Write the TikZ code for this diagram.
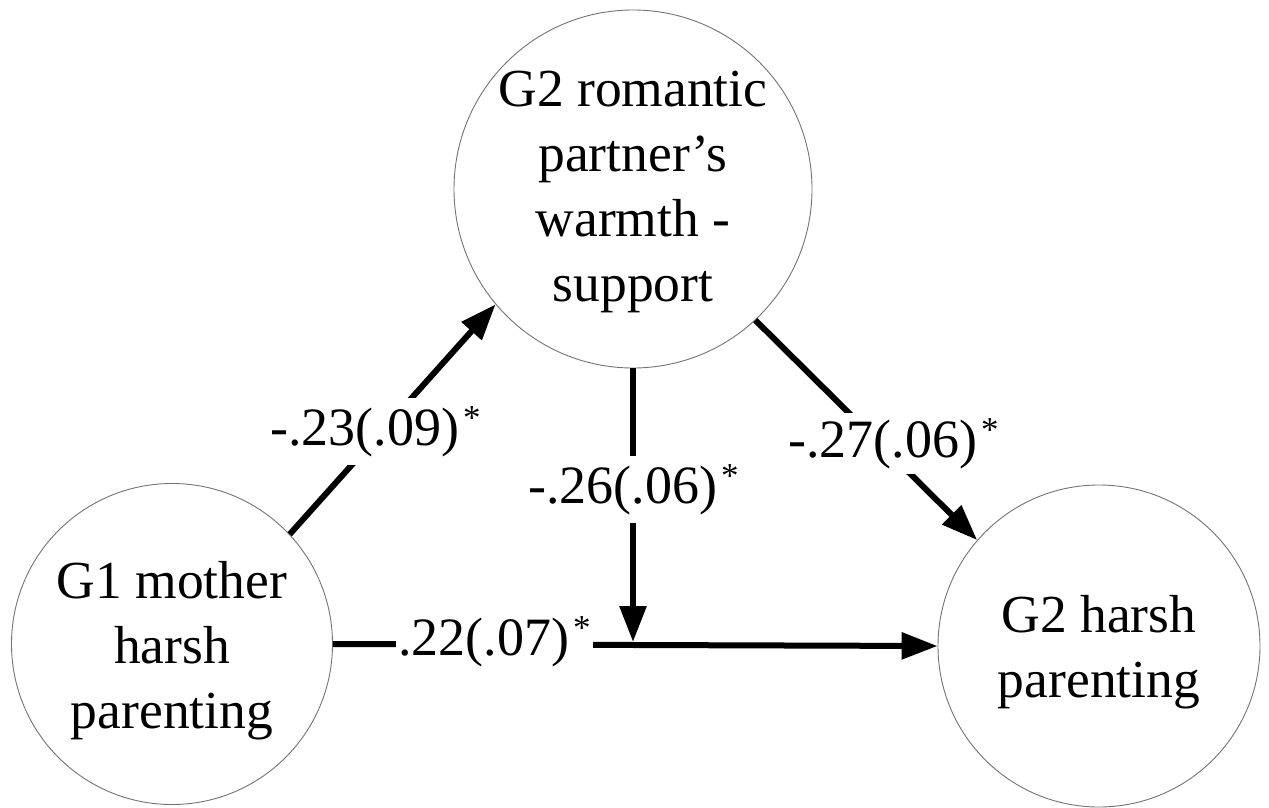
\documentclass[tikz,border=0pt]{standalone}
\usepackage{fontspec}
\setmainfont{Liberation Serif}
\usetikzlibrary{arrows.meta}
\newcommand{\sigstar}{\hspace{4pt}\raisebox{16pt}{\fontsize{35}{35}\selectfont *}}
\begin{document}
\begin{tikzpicture}[x=1pt,y=-1pt,
  var/.style={circle, draw=black!55, line width=0.9pt, inner sep=0pt},
  vtext/.style={align=center, inner sep=0pt, font=\fontsize{53.5}{65}\selectfont},
  arr/.style={line width=6pt, -{Triangle[length=36pt,width=26pt]}},
  coef/.style={fill=white, inner sep=8pt, anchor=base west, font=\fontsize{54}{64}\selectfont}]
\useasboundingbox (0,0) rectangle (1269,808);
\node[var, minimum size=321pt] (g1) at (172,644) {};
\node[var, minimum size=358pt] (w) at (633,189) {};
\node[var, minimum size=322pt] (g2) at (1099,646) {};
\node[vtext] (g1t) at (172,651) {G1 mother\\harsh\\parenting};
\node[vtext] (wt) at (633,192) {G2 romantic\\partner’s\\warmth -\\support};
\node[vtext] (g2t) at (1099,652) {G2 harsh\\parenting};
\coordinate (j) at (633,642);
\draw[arr] (g1.43.7) -- (w.220.9);
\draw[arr] (g1.east) -- (g2.west);
\draw[arr] (w.south) -- (j);
\draw[arr] (w.-47.3) -- (g2.139.5);
\node[coef] (l1) at (262,445) {-.23(.09)\sigstar};
\node[coef, inner xsep=2pt, inner ysep=6pt] (l2) at (396,655) {.22(.07)\sigstar};
\node[coef] (l3) at (520,503) {-.26(.06)\sigstar};
\node[coef, inner sep=5pt] (l4) at (783,457) {-.27(.06)\sigstar};
\end{tikzpicture}
\end{document}
